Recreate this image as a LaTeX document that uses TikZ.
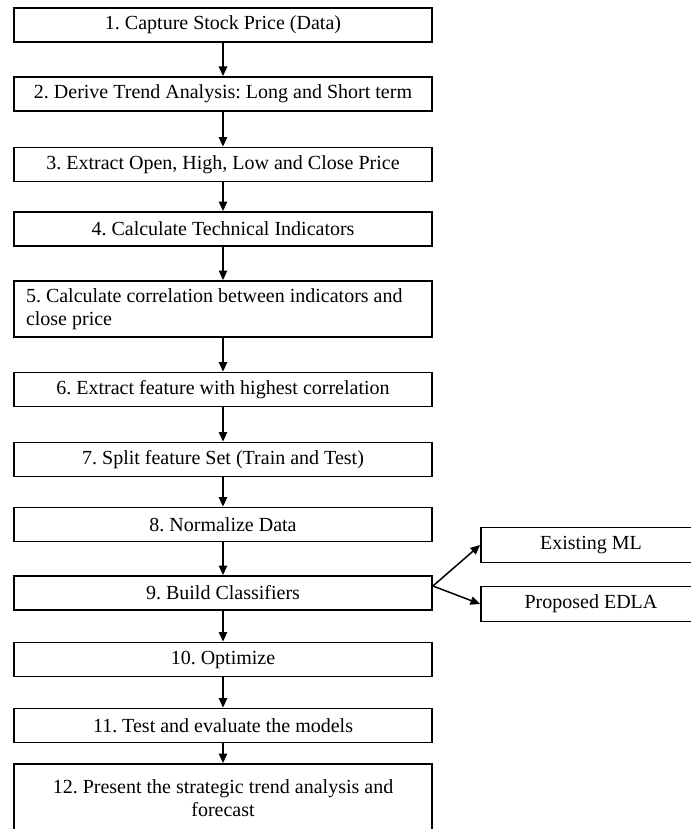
\documentclass[tikz,border=0pt]{standalone}
\usepackage{fontspec}
\setmainfont{Liberation Serif}
\usetikzlibrary{arrows.meta}

\begin{document}
\begin{tikzpicture}[
		x=0.5pt, y=-0.5pt,
		% okvirji glavnega poteka
		stagebox/.style={draw, line width=0.9pt, minimum width=209pt, minimum height=17pt,
			inner xsep=6pt, inner ysep=0pt, font=\fontsize{10}{11.5}\selectfont\frenchspacing},
		sidebox/.style={stagebox, minimum width=110pt, minimum height=17.5pt},
		flowarrow/.style={line width=0.75pt, -{Triangle[length=4.8pt,width=4.2pt]}}
		]
		\useasboundingbox (0,0) rectangle (690,829);
		\node[stagebox] (s1) at (223,25) {1. Capture Stock Price (Data)};
		\node[stagebox] (s2) at (223,94) {2. Derive Trend Analysis: Long and Short term};
		\node[stagebox] (s3) at (223,164.5) {3. Extract Open, High, Low and Close Price};
		\node[stagebox] (s4) at (223,229) {4. Calculate Technical Indicators};
		\node[stagebox, minimum height=28pt, text width=197pt, align=flush left] (s5) at (223,309)
			{5. Calculate correlation between indicators and\\close price};
		\node[stagebox] (s6) at (223,389.5) {6. Extract feature with highest correlation};
		\node[stagebox] (s7) at (223,459.5) {7. Split feature Set (Train and Test)};
		\node[stagebox] (s8) at (223,524.5) {8. Normalize Data};
		\node[stagebox] (s9) at (223,593) {9. Build Classifiers};
		\node[stagebox] (s10) at (223,659.5) {10. Optimize};
		\node[stagebox] (s11) at (223,725.5) {11. Test and evaluate the models};
		% spodnji rob je odrezan
		\node[stagebox, minimum height=34pt, text width=197pt, align=flush center] (s12) at (223,798)
			{12. Present the strategic trend analysis and\\forecast};
		\node[sidebox] (ml) at (591,545) {Existing ML};
		\node[sidebox] (edla) at (591,604) {Proposed EDLA};

		\draw[flowarrow] (s1) -- (s2);
		\draw[flowarrow] (s2) -- (s3);
		\draw[flowarrow] (s3) -- (s4);
		\draw[flowarrow] (s4) -- (s5);
		\draw[flowarrow] (s5) -- (s6);
		\draw[flowarrow] (s6) -- (s7);
		\draw[flowarrow] (s7) -- (s8);
		\draw[flowarrow] (s8) -- (s9);
		\draw[flowarrow] (s9) -- (s10);
		\draw[flowarrow] (s10) -- (s11);
		\draw[flowarrow] (s11) -- (s12);
		% razcep proti klasifikatorjem
		\coordinate (split) at ([yshift=3.5pt]s9.east);
		\draw[flowarrow] (split) -- (ml.west);
		\draw[flowarrow] (split) -- (edla.west);
	\end{tikzpicture}
\end{document}
